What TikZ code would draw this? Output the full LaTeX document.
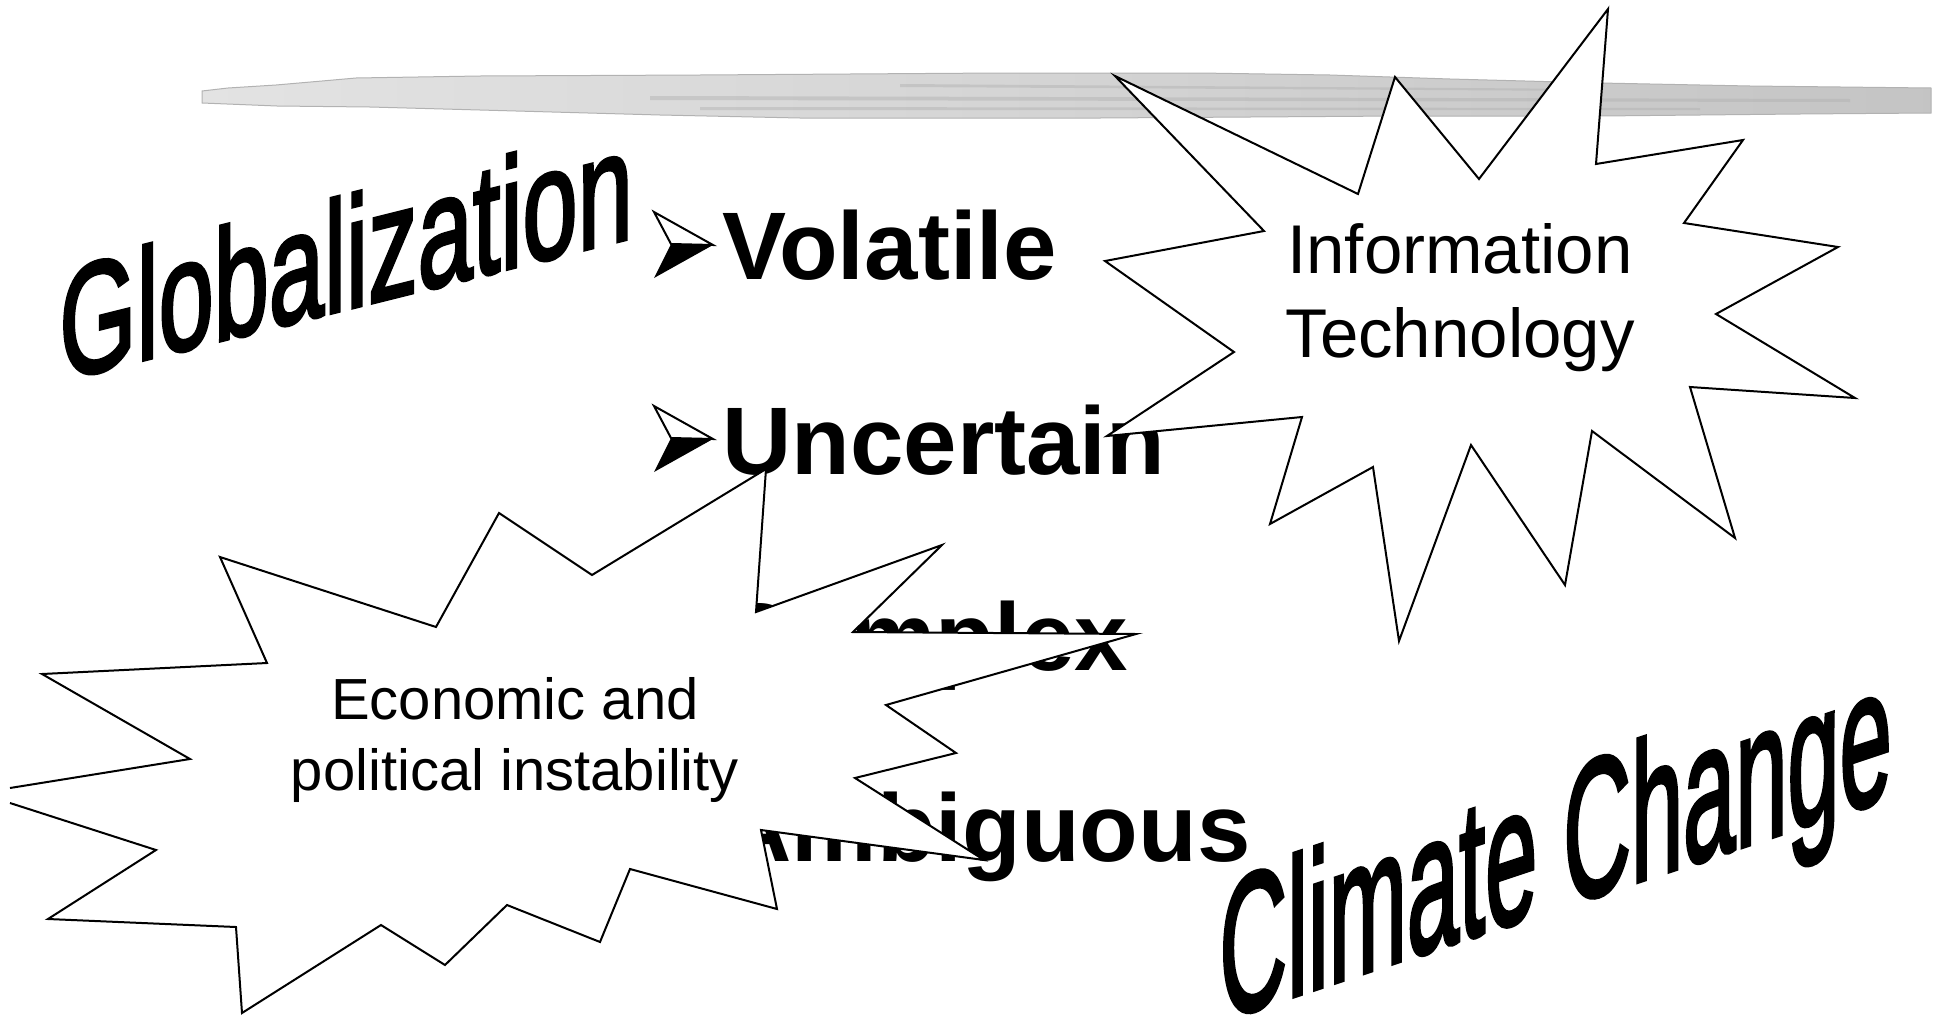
\documentclass[tikz,border=0pt]{standalone}
\usepackage{fontspec}
\setmainfont{Liberation Sans}
\newfontfamily\wordart[FakeBold=2.5]{Liberation Sans}

\begin{document}
\begin{tikzpicture}[x=0.5pt, y=-0.5pt,
  keyword/.style={font=\fontsize{48}{58}\selectfont\bfseries, anchor=base west, inner sep=0pt},
  burst/.style={fill=white, draw=black, line width=1pt},
  bursttext/.style={align=center, inner sep=0pt},
  streak/.style={gray!62, opacity=.45},
  arrowbullet/.pic={
    \draw[line width=1pt, fill=white] (0,-33) -- (59,0) -- (17,-1) -- cycle;
    \fill (17,-1) -- (59,0) -- (0,33) -- cycle;
  }]
\useasboundingbox (0,0) rectangle (1939,1023);

\shadedraw[draw=gray!60, line width=0.5pt, left color=gray!22, middle color=gray!50, right color=gray!46]
  (202,91) -- (228,88) -- (276,85) -- (322,81) -- (356,78) -- (480,76) -- (700,75) -- (1000,73)
  -- (1200,73) -- (1330,75) -- (1450,79) -- (1600,83) -- (1750,86) -- (1931,88) -- (1931,113)
  -- (1800,114) -- (1600,116) -- (1400,116) -- (1100,118) -- (800,118) -- (660,115) -- (480,110)
  -- (370,107) -- (277,106) -- (202,103) -- cycle;
\fill[streak] (650,96) -- (1850,99) -- (1850,102) -- (650,100) -- cycle;
\fill[streak] (900,84) -- (1600,89) -- (1600,91) -- (900,87) -- cycle;
\fill[streak] (700,107) -- (1700,108) -- (1700,110) -- (700,110) -- cycle;

\pic at (654,245) {arrowbullet};
\node[keyword] (volatile) at (722,279) {Volatile};
\pic at (654,439) {arrowbullet};
\node[keyword] (uncertain) at (722,474) {Uncertain};
\node[keyword] (complex) at (722,670) {Complex};
\node[keyword] (ambiguous) at (722,861) {Ambiguous};

\node[font=\wordart\fontsize{49.6}{58}\selectfont, anchor=base west, inner sep=0pt, yslant=0.25, yscale=1.59] (globalization) at (59,381) {Globalization};
\node[font=\wordart\fontsize{46.9}{56}\selectfont, anchor=base west, inner sep=0pt, yslant=0.333, yscale=2.09] (climate) at (1219,1021) {Climate Change};

\filldraw[burst] (1608,9) -- (1596,164) -- (1743,140) -- (1684,223) -- (1838,247) -- (1716,314)
  -- (1855,398) -- (1690,387) -- (1735,538) -- (1592,431) -- (1565,585) -- (1471,445) -- (1399,641)
  -- (1373,467) -- (1270,524) -- (1302,417) -- (1107,436) -- (1234,352) -- (1105,261) -- (1264,231)
  -- (1115,76) -- (1358,194) -- (1395,77) -- (1479,179) -- cycle;
\node[bursttext, font=\fontsize{34.5}{42}\selectfont] (infotech) at (1460,298) {Information\\Technology};

\filldraw[burst] (10,788) -- (190,759) -- (42,674) -- (267,663) -- (220,557) -- (436,627) -- (499,513)
  -- (592,575) -- (766,469) -- (756,612) -- (942,545) -- (853,632) -- (1136,634) -- (886,705)
  -- (956,753) -- (855,778) -- (984,860) -- (761,830) -- (777,909) -- (630,869) -- (600,942)
  -- (507,905) -- (445,965) -- (381,925) -- (242,1013) -- (236,927) -- (48,919) -- (156,850) -- (10,803);
\node[bursttext, font=\fontsize{29}{35.75}\selectfont] (instability) at (515,740) {Economic and\\political instability};
\end{tikzpicture}
\end{document}
